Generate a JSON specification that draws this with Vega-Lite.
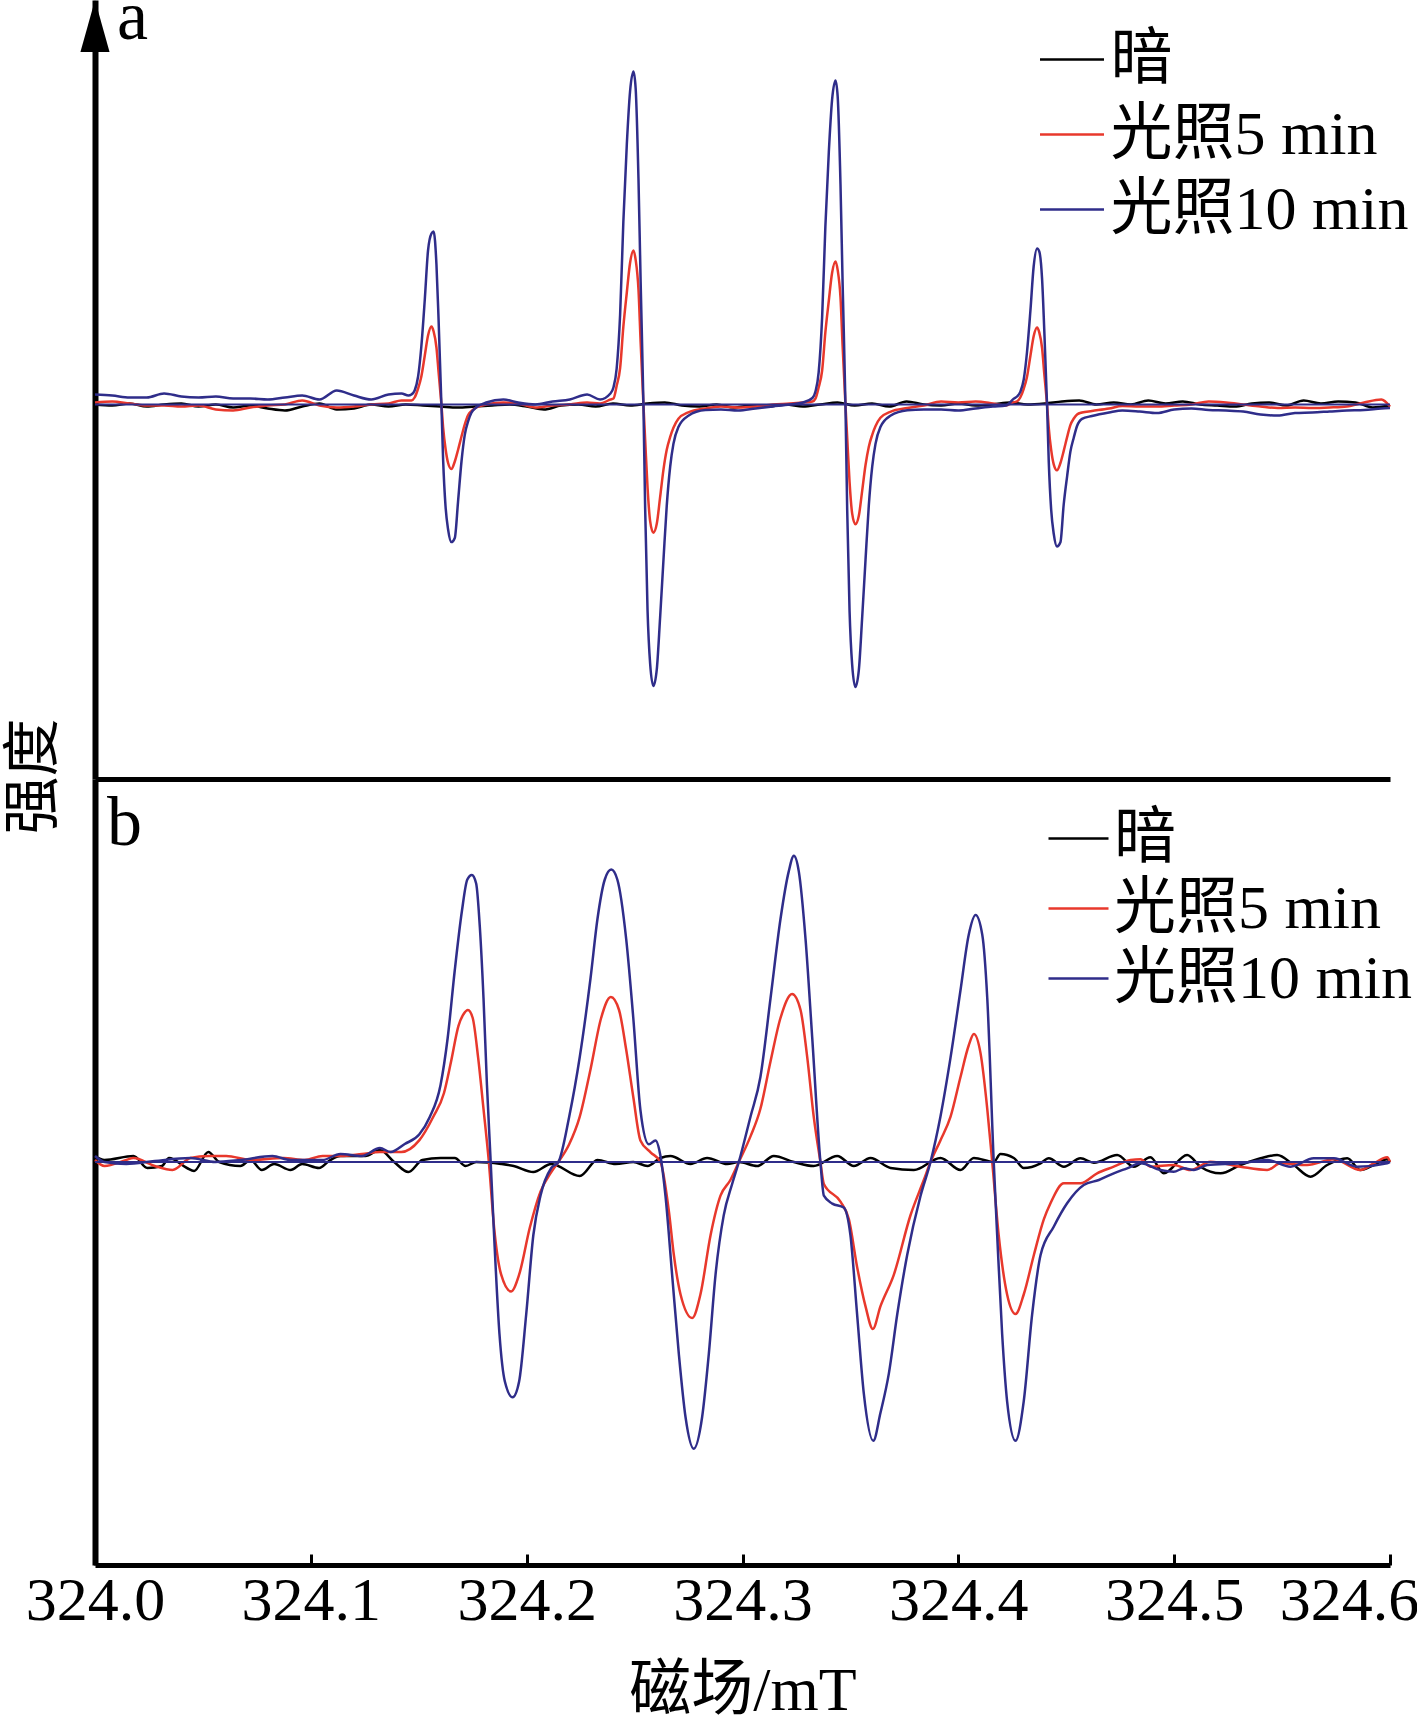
{
"$schema":"https://vega.github.io/schema/vega-lite/v6.json",
"padding":{"left":5,"top":0,"right":0,"bottom":0},
"background":"white",
"bounds":"flush",
"spacing":0,
"config":{"view":{"stroke":null},"axis":{"grid":false}},
"resolve":{"scale":{"y":"independent","color":"independent"},"legend":{"color":"independent"}},
"datasets":{
"a":[
{"s":"k","x":324.000,"y":0},{"s":"k","x":324.008,"y":-1},{"s":"k","x":324.016,"y":1},{"s":"k","x":324.024,"y":-2},{"s":"k","x":324.032,"y":0},{"s":"k","x":324.040,"y":1},{"s":"k","x":324.048,"y":-2},{"s":"k","x":324.056,"y":0},{"s":"k","x":324.064,"y":-3},{"s":"k","x":324.072,"y":-1},{"s":"k","x":324.080,"y":-4},{"s":"k","x":324.088,"y":-6},{"s":"k","x":324.096,"y":-2},{"s":"k","x":324.104,"y":1},{"s":"k","x":324.112,"y":-5},{"s":"k","x":324.120,"y":-4},{"s":"k","x":324.128,"y":0},{"s":"k","x":324.136,"y":-2},{"s":"k","x":324.144,"y":0},{"s":"k","x":324.152,"y":-1},{"s":"k","x":324.160,"y":-2},{"s":"k","x":324.168,"y":-3},{"s":"k","x":324.176,"y":-2},{"s":"k","x":324.184,"y":-1},{"s":"k","x":324.192,"y":0},{"s":"k","x":324.200,"y":-2},{"s":"k","x":324.208,"y":-5},{"s":"k","x":324.216,"y":-1},{"s":"k","x":324.224,"y":0},{"s":"k","x":324.232,"y":-2},{"s":"k","x":324.240,"y":1},{"s":"k","x":324.248,"y":-1},{"s":"k","x":324.256,"y":1},{"s":"k","x":324.264,"y":2},{"s":"k","x":324.272,"y":-1},{"s":"k","x":324.280,"y":-2},{"s":"k","x":324.288,"y":0},{"s":"k","x":324.296,"y":-3},{"s":"k","x":324.304,"y":-1},{"s":"k","x":324.312,"y":-2},{"s":"k","x":324.320,"y":0},{"s":"k","x":324.328,"y":-2},{"s":"k","x":324.336,"y":0},{"s":"k","x":324.344,"y":2},{"s":"k","x":324.352,"y":-1},{"s":"k","x":324.360,"y":1},{"s":"k","x":324.368,"y":-2},{"s":"k","x":324.376,"y":3},{"s":"k","x":324.384,"y":0},{"s":"k","x":324.392,"y":-1},{"s":"k","x":324.400,"y":1},{"s":"k","x":324.408,"y":-1},{"s":"k","x":324.416,"y":0},{"s":"k","x":324.424,"y":2},{"s":"k","x":324.432,"y":0},{"s":"k","x":324.440,"y":1},{"s":"k","x":324.448,"y":3},{"s":"k","x":324.456,"y":4},{"s":"k","x":324.464,"y":0},{"s":"k","x":324.472,"y":2},{"s":"k","x":324.480,"y":0},{"s":"k","x":324.488,"y":4},{"s":"k","x":324.496,"y":1},{"s":"k","x":324.504,"y":3},{"s":"k","x":324.512,"y":0},{"s":"k","x":324.520,"y":-1},{"s":"k","x":324.528,"y":-2},{"s":"k","x":324.536,"y":1},{"s":"k","x":324.544,"y":2},{"s":"k","x":324.552,"y":-1},{"s":"k","x":324.560,"y":4},{"s":"k","x":324.568,"y":1},{"s":"k","x":324.576,"y":3},{"s":"k","x":324.584,"y":2},{"s":"k","x":324.592,"y":-3},{"s":"k","x":324.600,"y":-1},
{"s":"r","x":324.000,"y":2},{"s":"r","x":324.008,"y":3},{"s":"r","x":324.016,"y":1},{"s":"r","x":324.024,"y":-1},{"s":"r","x":324.032,"y":-1},{"s":"r","x":324.040,"y":-2},{"s":"r","x":324.048,"y":-1},{"s":"r","x":324.056,"y":-5},{"s":"r","x":324.064,"y":-6},{"s":"r","x":324.072,"y":-3},{"s":"r","x":324.080,"y":-1},{"s":"r","x":324.088,"y":0},{"s":"r","x":324.096,"y":4},{"s":"r","x":324.104,"y":-1},{"s":"r","x":324.112,"y":-3},{"s":"r","x":324.120,"y":-2},{"s":"r","x":324.128,"y":0},{"s":"r","x":324.136,"y":1},{"s":"r","x":324.142,"y":4},
{"s":"r","x":324.1452,"y":4},{"s":"r","x":324.1466,"y":4},{"s":"r","x":324.1481,"y":7},{"s":"r","x":324.1497,"y":16},{"s":"r","x":324.1512,"y":28},{"s":"r","x":324.1528,"y":49},{"s":"r","x":324.1543,"y":69},{"s":"r","x":324.1559,"y":78},{"s":"r","x":324.1569,"y":73},{"s":"r","x":324.1582,"y":57},{"s":"r","x":324.1592,"y":32},{"s":"r","x":324.1605,"y":0},{"s":"r","x":324.1613,"y":-23},{"s":"r","x":324.1624,"y":-44},{"s":"r","x":324.1636,"y":-58.5},{"s":"r","x":324.1651,"y":-64.5},{"s":"r","x":324.1667,"y":-57},{"s":"r","x":324.1682,"y":-45.5},{"s":"r","x":324.1698,"y":-32},{"s":"r","x":324.1713,"y":-20},{"s":"r","x":324.1729,"y":-10.5},{"s":"r","x":324.1744,"y":-6.5},{"s":"r","x":324.1767,"y":-3},{"s":"r","x":324.1813,"y":0},{"s":"r","x":324.1892,"y":2},
{"s":"r","x":324.196,"y":1},{"s":"r","x":324.204,"y":-3},{"s":"r","x":324.212,"y":-1},{"s":"r","x":324.220,"y":0},{"s":"r","x":324.228,"y":2},{"s":"r","x":324.234,"y":1},
{"s":"r","x":324.2388,"y":5},{"s":"r","x":324.2402,"y":6},{"s":"r","x":324.2417,"y":18.7},{"s":"r","x":324.2433,"y":36.5},{"s":"r","x":324.2448,"y":77.8},{"s":"r","x":324.2464,"y":112},{"s":"r","x":324.2479,"y":141.5},{"s":"r","x":324.2495,"y":154},{"s":"r","x":324.2505,"y":144.6},{"s":"r","x":324.2518,"y":115},{"s":"r","x":324.2528,"y":62.2},{"s":"r","x":324.2541,"y":0},{"s":"r","x":324.2549,"y":-35},{"s":"r","x":324.2560,"y":-82.9},{"s":"r","x":324.2572,"y":-116.6},{"s":"r","x":324.2587,"y":-128.2},{"s":"r","x":324.2603,"y":-119.1},{"s":"r","x":324.2618,"y":-93.2},{"s":"r","x":324.2634,"y":-64.8},{"s":"r","x":324.2649,"y":-45.3},{"s":"r","x":324.2665,"y":-32.4},{"s":"r","x":324.2680,"y":-23.3},{"s":"r","x":324.2703,"y":-14.2},{"s":"r","x":324.2749,"y":-7.8},{"s":"r","x":324.2828,"y":-3.9},
{"s":"r","x":324.290,"y":-2},{"s":"r","x":324.298,"y":-3},{"s":"r","x":324.306,"y":-2},{"s":"r","x":324.314,"y":0},{"s":"r","x":324.322,"y":1},{"s":"r","x":324.328,"y":2},
{"s":"r","x":324.3324,"y":2.9},{"s":"r","x":324.3338,"y":5.8},{"s":"r","x":324.3353,"y":17.3},{"s":"r","x":324.3369,"y":34},{"s":"r","x":324.3384,"y":72.3},{"s":"r","x":324.3400,"y":104},{"s":"r","x":324.3415,"y":131.5},{"s":"r","x":324.3431,"y":143},{"s":"r","x":324.3441,"y":134.4},{"s":"r","x":324.3454,"y":107},{"s":"r","x":324.3464,"y":57.8},{"s":"r","x":324.3477,"y":0},{"s":"r","x":324.3485,"y":-32.7},{"s":"r","x":324.3496,"y":-77.4},{"s":"r","x":324.3508,"y":-108.9},{"s":"r","x":324.3523,"y":-119.8},{"s":"r","x":324.3539,"y":-111.3},{"s":"r","x":324.3554,"y":-87.1},{"s":"r","x":324.3570,"y":-60.5},{"s":"r","x":324.3585,"y":-42.4},{"s":"r","x":324.3601,"y":-30.3},{"s":"r","x":324.3616,"y":-21.8},{"s":"r","x":324.3639,"y":-13.3},{"s":"r","x":324.3685,"y":-7.3},{"s":"r","x":324.3764,"y":-3.6},
{"s":"r","x":324.384,"y":-1},{"s":"r","x":324.392,"y":3},{"s":"r","x":324.400,"y":2},{"s":"r","x":324.408,"y":3},{"s":"r","x":324.416,"y":1},{"s":"r","x":324.422,"y":-1},
{"s":"r","x":324.4258,"y":2.4},{"s":"r","x":324.4272,"y":3.1},{"s":"r","x":324.4287,"y":7},{"s":"r","x":324.4303,"y":15.7},{"s":"r","x":324.4318,"y":27.5},{"s":"r","x":324.4334,"y":48.7},{"s":"r","x":324.4349,"y":68.3},{"s":"r","x":324.4365,"y":77},{"s":"r","x":324.4375,"y":72.2},{"s":"r","x":324.4388,"y":56.5},{"s":"r","x":324.4398,"y":31.4},{"s":"r","x":324.4411,"y":0},{"s":"r","x":324.4419,"y":-23.3},{"s":"r","x":324.4430,"y":-45.2},{"s":"r","x":324.4442,"y":-59.9},{"s":"r","x":324.4457,"y":-65.8},{"s":"r","x":324.4473,"y":-58.5},{"s":"r","x":324.4488,"y":-46.6},{"s":"r","x":324.4504,"y":-32.6},{"s":"r","x":324.4519,"y":-20.6},{"s":"r","x":324.4535,"y":-14},{"s":"r","x":324.4550,"y":-10},{"s":"r","x":324.4573,"y":-8},{"s":"r","x":324.4619,"y":-6.5},{"s":"r","x":324.4698,"y":-4},
{"s":"r","x":324.476,"y":-1.5},{"s":"r","x":324.484,"y":-2},{"s":"r","x":324.492,"y":-2},{"s":"r","x":324.500,"y":-1},{"s":"r","x":324.508,"y":0},{"s":"r","x":324.516,"y":3},{"s":"r","x":324.524,"y":2},{"s":"r","x":324.532,"y":0},{"s":"r","x":324.540,"y":-2},{"s":"r","x":324.548,"y":-3.5},{"s":"r","x":324.556,"y":-3},{"s":"r","x":324.564,"y":-3.5},{"s":"r","x":324.572,"y":-3},{"s":"r","x":324.580,"y":-2},{"s":"r","x":324.588,"y":2},{"s":"r","x":324.596,"y":5},{"s":"r","x":324.600,"y":-2},
{"s":"b","x":324.000,"y":10},{"s":"b","x":324.008,"y":9},{"s":"b","x":324.016,"y":7},{"s":"b","x":324.024,"y":7},{"s":"b","x":324.032,"y":11},{"s":"b","x":324.040,"y":8},{"s":"b","x":324.048,"y":7},{"s":"b","x":324.056,"y":8},{"s":"b","x":324.064,"y":6},{"s":"b","x":324.072,"y":6},{"s":"b","x":324.080,"y":5},{"s":"b","x":324.088,"y":7},{"s":"b","x":324.096,"y":9},{"s":"b","x":324.104,"y":5},{"s":"b","x":324.112,"y":14},{"s":"b","x":324.120,"y":9},{"s":"b","x":324.128,"y":5},{"s":"b","x":324.136,"y":10},{"s":"b","x":324.142,"y":11},
{"s":"b","x":324.1452,"y":9},{"s":"b","x":324.1466,"y":10},{"s":"b","x":324.1481,"y":14},{"s":"b","x":324.1497,"y":28},{"s":"b","x":324.1512,"y":58},{"s":"b","x":324.1528,"y":105},{"s":"b","x":324.1543,"y":154},{"s":"b","x":324.1559,"y":171},{"s":"b","x":324.1569,"y":173},{"s":"b","x":324.1582,"y":140},{"s":"b","x":324.1592,"y":84},{"s":"b","x":324.1605,"y":0},{"s":"b","x":324.1613,"y":-55.6},{"s":"b","x":324.1624,"y":-101.5},{"s":"b","x":324.1636,"y":-125},{"s":"b","x":324.1651,"y":-137.6},{"s":"b","x":324.1667,"y":-133.4},{"s":"b","x":324.1682,"y":-97.3},{"s":"b","x":324.1698,"y":-57},{"s":"b","x":324.1713,"y":-30.6},{"s":"b","x":324.1729,"y":-16.7},{"s":"b","x":324.1744,"y":-8.3},{"s":"b","x":324.1767,"y":-2.8},{"s":"b","x":324.1813,"y":2},{"s":"b","x":324.1892,"y":5},
{"s":"b","x":324.196,"y":2},{"s":"b","x":324.204,"y":0},{"s":"b","x":324.212,"y":3},{"s":"b","x":324.220,"y":5},{"s":"b","x":324.228,"y":10},{"s":"b","x":324.234,"y":5},
{"s":"b","x":324.2388,"y":11},{"s":"b","x":324.2402,"y":17},{"s":"b","x":324.2417,"y":36},{"s":"b","x":324.2433,"y":90},{"s":"b","x":324.2448,"y":183},{"s":"b","x":324.2464,"y":260},{"s":"b","x":324.2479,"y":313},{"s":"b","x":324.2495,"y":333},{"s":"b","x":324.2505,"y":316},{"s":"b","x":324.2518,"y":226},{"s":"b","x":324.2528,"y":123},{"s":"b","x":324.2541,"y":0},{"s":"b","x":324.2549,"y":-104},{"s":"b","x":324.2560,"y":-205.5},{"s":"b","x":324.2572,"y":-259},{"s":"b","x":324.2587,"y":-281.5},{"s":"b","x":324.2603,"y":-264.6},{"s":"b","x":324.2618,"y":-214},{"s":"b","x":324.2634,"y":-154.8},{"s":"b","x":324.2649,"y":-101.3},{"s":"b","x":324.2665,"y":-62},{"s":"b","x":324.2680,"y":-39.4},{"s":"b","x":324.2703,"y":-22.5},{"s":"b","x":324.2749,"y":-11.3},{"s":"b","x":324.2828,"y":-5.6},
{"s":"b","x":324.290,"y":-5},{"s":"b","x":324.298,"y":-6},{"s":"b","x":324.306,"y":-4},{"s":"b","x":324.314,"y":-2},{"s":"b","x":324.322,"y":0},{"s":"b","x":324.328,"y":2},
{"s":"b","x":324.3324,"y":6.5},{"s":"b","x":324.3338,"y":13},{"s":"b","x":324.3353,"y":32.4},{"s":"b","x":324.3369,"y":87.5},{"s":"b","x":324.3384,"y":178.2},{"s":"b","x":324.3400,"y":252.7},{"s":"b","x":324.3415,"y":304.6},{"s":"b","x":324.3431,"y":324},{"s":"b","x":324.3441,"y":307.8},{"s":"b","x":324.3454,"y":220.3},{"s":"b","x":324.3464,"y":119.9},{"s":"b","x":324.3477,"y":0},{"s":"b","x":324.3485,"y":-104.5},{"s":"b","x":324.3496,"y":-206.2},{"s":"b","x":324.3508,"y":-259.9},{"s":"b","x":324.3523,"y":-282.5},{"s":"b","x":324.3539,"y":-265.6},{"s":"b","x":324.3554,"y":-214.7},{"s":"b","x":324.3570,"y":-155.4},{"s":"b","x":324.3585,"y":-101.7},{"s":"b","x":324.3601,"y":-62.2},{"s":"b","x":324.3616,"y":-39.6},{"s":"b","x":324.3639,"y":-22.6},{"s":"b","x":324.3685,"y":-11.3},{"s":"b","x":324.3764,"y":-5.7},
{"s":"b","x":324.384,"y":-5},{"s":"b","x":324.392,"y":-5},{"s":"b","x":324.400,"y":-6},{"s":"b","x":324.408,"y":-4},{"s":"b","x":324.416,"y":-2},{"s":"b","x":324.422,"y":-1},
{"s":"b","x":324.4258,"y":6},{"s":"b","x":324.4272,"y":8},{"s":"b","x":324.4287,"y":12.6},{"s":"b","x":324.4303,"y":25},{"s":"b","x":324.4318,"y":52},{"s":"b","x":324.4334,"y":94},{"s":"b","x":324.4349,"y":138},{"s":"b","x":324.4365,"y":156},{"s":"b","x":324.4375,"y":153},{"s":"b","x":324.4388,"y":125.6},{"s":"b","x":324.4398,"y":75.4},{"s":"b","x":324.4411,"y":0},{"s":"b","x":324.4419,"y":-57.4},{"s":"b","x":324.4430,"y":-104.8},{"s":"b","x":324.4442,"y":-129.2},{"s":"b","x":324.4457,"y":-142},{"s":"b","x":324.4473,"y":-137.8},{"s":"b","x":324.4488,"y":-100.5},{"s":"b","x":324.4504,"y":-71.8},{"s":"b","x":324.4519,"y":-47.4},{"s":"b","x":324.4535,"y":-33},{"s":"b","x":324.4550,"y":-21.5},{"s":"b","x":324.4573,"y":-14.4},{"s":"b","x":324.4619,"y":-11.5},{"s":"b","x":324.4698,"y":-8},
{"s":"b","x":324.476,"y":-6},{"s":"b","x":324.484,"y":-7},{"s":"b","x":324.492,"y":-8.5},{"s":"b","x":324.500,"y":-5},{"s":"b","x":324.508,"y":-4},{"s":"b","x":324.516,"y":-5.5},{"s":"b","x":324.524,"y":-6},{"s":"b","x":324.532,"y":-7},{"s":"b","x":324.540,"y":-10},{"s":"b","x":324.548,"y":-11},{"s":"b","x":324.556,"y":-8.5},{"s":"b","x":324.564,"y":-8},{"s":"b","x":324.572,"y":-7},{"s":"b","x":324.580,"y":-6},{"s":"b","x":324.588,"y":-5.5},{"s":"b","x":324.596,"y":-4},{"s":"b","x":324.600,"y":-3.5}
],
"b":[
{"s":"k","x":324.0000,"y":6},{"s":"k","x":324.0044,"y":2},{"s":"k","x":324.0178,"y":6},{"s":"k","x":324.0243,"y":-6},{"s":"k","x":324.0310,"y":-4},{"s":"k","x":324.0343,"y":4},{"s":"k","x":324.0426,"y":-6},{"s":"k","x":324.0459,"y":-9},{"s":"k","x":324.0525,"y":10},{"s":"k","x":324.0575,"y":0},{"s":"k","x":324.0674,"y":-4},{"s":"k","x":324.0720,"y":2},{"s":"k","x":324.0773,"y":-8},{"s":"k","x":324.0830,"y":-2},{"s":"k","x":324.0906,"y":-8},{"s":"k","x":324.0960,"y":-2},{"s":"k","x":324.1038,"y":-6},{"s":"k","x":324.1090,"y":2},{"s":"k","x":324.1137,"y":6},{"s":"k","x":324.1253,"y":6},{"s":"k","x":324.1320,"y":12},{"s":"k","x":324.1386,"y":0},{"s":"k","x":324.1452,"y":-10},{"s":"k","x":324.1517,"y":2},{"s":"k","x":324.1601,"y":4},{"s":"k","x":324.1667,"y":4},{"s":"k","x":324.1717,"y":-4},{"s":"k","x":324.1766,"y":0},{"s":"k","x":324.1882,"y":-2},{"s":"k","x":324.1940,"y":-4},{"s":"k","x":324.2031,"y":-10},{"s":"k","x":324.2114,"y":-2},{"s":"k","x":324.2246,"y":-14},{"s":"k","x":324.2328,"y":2},{"s":"k","x":324.2412,"y":-2},{"s":"k","x":324.2494,"y":0},{"s":"k","x":324.2560,"y":-4},{"s":"k","x":324.2620,"y":4},{"s":"k","x":324.2666,"y":6},{"s":"k","x":324.2759,"y":-2},{"s":"k","x":324.2836,"y":4},{"s":"k","x":324.2929,"y":-2},{"s":"k","x":324.2983,"y":0},{"s":"k","x":324.3068,"y":-4},{"s":"k","x":324.3145,"y":6},{"s":"k","x":324.3238,"y":0},{"s":"k","x":324.3330,"y":-4},{"s":"k","x":324.3439,"y":6},{"s":"k","x":324.3516,"y":-4},{"s":"k","x":324.3593,"y":4},{"s":"k","x":324.3686,"y":-6},{"s":"k","x":324.3794,"y":-8},{"s":"k","x":324.3917,"y":4},{"s":"k","x":324.4010,"y":-8},{"s":"k","x":324.4072,"y":4},{"s":"k","x":324.4164,"y":0},{"s":"k","x":324.4195,"y":8},{"s":"k","x":324.4257,"y":4},{"s":"k","x":324.4303,"y":-6},{"s":"k","x":324.4381,"y":-1.3},{"s":"k","x":324.4419,"y":3.7},{"s":"k","x":324.4489,"y":-4.7},{"s":"k","x":324.4566,"y":3.7},{"s":"k","x":324.4628,"y":-0.7},{"s":"k","x":324.4736,"y":7},{"s":"k","x":324.4813,"y":-4.7},{"s":"k","x":324.4890,"y":4.7},{"s":"k","x":324.4952,"y":-11.3},{"s":"k","x":324.5060,"y":7},{"s":"k","x":324.5122,"y":-4.7},{"s":"k","x":324.5215,"y":-11.3},{"s":"k","x":324.5307,"y":-3},{"s":"k","x":324.5400,"y":3.7},{"s":"k","x":324.5477,"y":7},{"s":"k","x":324.5554,"y":-3},{"s":"k","x":324.5632,"y":-14.7},{"s":"k","x":324.5709,"y":-3},{"s":"k","x":324.5802,"y":3.7},{"s":"k","x":324.5863,"y":-8},{"s":"k","x":324.5925,"y":-3},{"s":"k","x":324.5987,"y":2.7},{"s":"k","x":324.6,"y":0},
{"s":"r","x":324.0000,"y":2},{"s":"r","x":324.0044,"y":-4},{"s":"r","x":324.0145,"y":2},{"s":"r","x":324.0178,"y":4},{"s":"r","x":324.0277,"y":-4},{"s":"r","x":324.0359,"y":-8},{"s":"r","x":324.0442,"y":4},{"s":"r","x":324.0526,"y":6},{"s":"r","x":324.0608,"y":6},{"s":"r","x":324.0724,"y":2},{"s":"r","x":324.0873,"y":4},{"s":"r","x":324.0972,"y":2},{"s":"r","x":324.1054,"y":6},{"s":"r","x":324.1137,"y":6},{"s":"r","x":324.1237,"y":8},{"s":"r","x":324.1320,"y":10},{"s":"r","x":324.1419,"y":10},{"s":"r","x":324.1502,"y":21.6},{"s":"r","x":324.1568,"y":45.5},{"s":"r","x":324.1617,"y":69},{"s":"r","x":324.1650,"y":100.7},{"s":"r","x":324.1684,"y":136.2},{"s":"r","x":324.1708,"y":148},{"s":"r","x":324.1728,"y":152},{"s":"r","x":324.1750,"y":144},{"s":"r","x":324.1775,"y":104.6},{"s":"r","x":324.1800,"y":53.2},{"s":"r","x":324.1824,"y":2},{"s":"r","x":324.1849,"y":-65.3},{"s":"r","x":324.1882,"y":-112.7},{"s":"r","x":324.1928,"y":-129.5},{"s":"r","x":324.1965,"y":-112.7},{"s":"r","x":324.2015,"y":-65.3},{"s":"r","x":324.2064,"y":-29.6},{"s":"r","x":324.2114,"y":-10},{"s":"r","x":324.2147,"y":0},{"s":"r","x":324.2197,"y":17.7},{"s":"r","x":324.2246,"y":45.3},{"s":"r","x":324.2296,"y":92.8},{"s":"r","x":324.2345,"y":144},{"s":"r","x":324.2390,"y":165},{"s":"r","x":324.2428,"y":152},{"s":"r","x":324.2461,"y":112.5},{"s":"r","x":324.2494,"y":65},{"s":"r","x":324.2527,"y":21.6},{"s":"r","x":324.2574,"y":9.7},{"s":"r","x":324.2620,"y":0},{"s":"r","x":324.2659,"y":-49.5},{"s":"r","x":324.2682,"y":-93},{"s":"r","x":324.2713,"y":-132.5},{"s":"r","x":324.2767,"y":-156},{"s":"r","x":324.2805,"y":-132.5},{"s":"r","x":324.2852,"y":-73.2},{"s":"r","x":324.2898,"y":-33.7},{"s":"r","x":324.2944,"y":-18},{"s":"r","x":324.2983,"y":0},{"s":"r","x":324.3037,"y":25.6},{"s":"r","x":324.3083,"y":53.2},{"s":"r","x":324.3130,"y":100.7},{"s":"r","x":324.3176,"y":144},{"s":"r","x":324.3230,"y":168},{"s":"r","x":324.3269,"y":152},{"s":"r","x":324.3300,"y":104.6},{"s":"r","x":324.3330,"y":45.3},{"s":"r","x":324.3361,"y":0},{"s":"r","x":324.3377,"y":-22},{"s":"r","x":324.3454,"y":-39.7},{"s":"r","x":324.3493,"y":-57.4},{"s":"r","x":324.3531,"y":-104.9},{"s":"r","x":324.3570,"y":-144.4},{"s":"r","x":324.3604,"y":-167},{"s":"r","x":324.3639,"y":-144.4},{"s":"r","x":324.3701,"y":-112.8},{"s":"r","x":324.3778,"y":-53.5},{"s":"r","x":324.3840,"y":-18},{"s":"r","x":324.3871,"y":0},{"s":"r","x":324.3917,"y":21.6},{"s":"r","x":324.3964,"y":45.3},{"s":"r","x":324.4010,"y":85},{"s":"r","x":324.4048,"y":116.5},{"s":"r","x":324.4072,"y":128},{"s":"r","x":324.4103,"y":108.6},{"s":"r","x":324.4134,"y":53.2},{"s":"r","x":324.4157,"y":0},{"s":"r","x":324.4187,"y":-73.2},{"s":"r","x":324.4226,"y":-132.5},{"s":"r","x":324.4265,"y":-152},{"s":"r","x":324.4303,"y":-132.5},{"s":"r","x":324.4350,"y":-93},{"s":"r","x":324.4396,"y":-57.4},{"s":"r","x":324.4427,"y":-41.3},{"s":"r","x":324.4489,"y":-21.3},{"s":"r","x":324.4566,"y":-21.3},{"s":"r","x":324.4643,"y":-11.3},{"s":"r","x":324.4720,"y":-4.7},{"s":"r","x":324.4798,"y":2},{"s":"r","x":324.4844,"y":2.7},{"s":"r","x":324.4890,"y":-4.7},{"s":"r","x":324.4998,"y":-3},{"s":"r","x":324.5076,"y":-8},{"s":"r","x":324.5168,"y":0.3},{"s":"r","x":324.5307,"y":-4.7},{"s":"r","x":324.5431,"y":-8},{"s":"r","x":324.5493,"y":-1.3},{"s":"r","x":324.5616,"y":-3},{"s":"r","x":324.5740,"y":2.7},{"s":"r","x":324.5863,"y":-8},{"s":"r","x":324.5925,"y":-1.3},{"s":"r","x":324.5987,"y":4.7},{"s":"r","x":324.6,"y":0},
{"s":"b","x":324.0000,"y":6},{"s":"b","x":324.0044,"y":0},{"s":"b","x":324.0145,"y":-2},{"s":"b","x":324.0277,"y":1},{"s":"b","x":324.0442,"y":4},{"s":"b","x":324.0558,"y":0},{"s":"b","x":324.0674,"y":2},{"s":"b","x":324.0822,"y":6},{"s":"b","x":324.0906,"y":2},{"s":"b","x":324.1054,"y":2},{"s":"b","x":324.1137,"y":8},{"s":"b","x":324.1237,"y":6},{"s":"b","x":324.1320,"y":14},{"s":"b","x":324.1369,"y":10},{"s":"b","x":324.1435,"y":18},{"s":"b","x":324.1502,"y":27.5},{"s":"b","x":324.1551,"y":45},{"s":"b","x":324.1601,"y":77},{"s":"b","x":324.1634,"y":124},{"s":"b","x":324.1667,"y":192},{"s":"b","x":324.1700,"y":251},{"s":"b","x":324.1725,"y":282.5},{"s":"b","x":324.1746,"y":287},{"s":"b","x":324.1766,"y":278.5},{"s":"b","x":324.1783,"y":235},{"s":"b","x":324.1800,"y":164},{"s":"b","x":324.1816,"y":77},{"s":"b","x":324.1832,"y":6},{"s":"b","x":324.1849,"y":-73},{"s":"b","x":324.1874,"y":-172},{"s":"b","x":324.1899,"y":-219.5},{"s":"b","x":324.1935,"y":-235.3},{"s":"b","x":324.1965,"y":-219.5},{"s":"b","x":324.1998,"y":-152},{"s":"b","x":324.2031,"y":-73},{"s":"b","x":324.2064,"y":-33.7},{"s":"b","x":324.2114,"y":-6},{"s":"b","x":324.2147,"y":0},{"s":"b","x":324.2197,"y":45.3},{"s":"b","x":324.2246,"y":105},{"s":"b","x":324.2296,"y":184},{"s":"b","x":324.2328,"y":243},{"s":"b","x":324.2362,"y":282.5},{"s":"b","x":324.2392,"y":292.4},{"s":"b","x":324.2420,"y":282.5},{"s":"b","x":324.2461,"y":223.2},{"s":"b","x":324.2494,"y":144},{"s":"b","x":324.2527,"y":52},{"s":"b","x":324.2566,"y":17.7},{"s":"b","x":324.2597,"y":21.6},{"s":"b","x":324.2620,"y":6},{"s":"b","x":324.2643,"y":-33.7},{"s":"b","x":324.2674,"y":-112.8},{"s":"b","x":324.2705,"y":-191.8},{"s":"b","x":324.2736,"y":-255},{"s":"b","x":324.2774,"y":-286.7},{"s":"b","x":324.2813,"y":-255},{"s":"b","x":324.2844,"y":-191.8},{"s":"b","x":324.2875,"y":-112.8},{"s":"b","x":324.2913,"y":-53.4},{"s":"b","x":324.2952,"y":-22},{"s":"b","x":324.2983,"y":0},{"s":"b","x":324.3037,"y":45.3},{"s":"b","x":324.3083,"y":85},{"s":"b","x":324.3130,"y":164},{"s":"b","x":324.3176,"y":243},{"s":"b","x":324.3214,"y":290.4},{"s":"b","x":324.3238,"y":306.2},{"s":"b","x":324.3261,"y":290.4},{"s":"b","x":324.3292,"y":223.2},{"s":"b","x":324.3323,"y":124.4},{"s":"b","x":324.3361,"y":0},{"s":"b","x":324.3377,"y":-33.7},{"s":"b","x":324.3416,"y":-41.6},{"s":"b","x":324.3469,"y":-45.6},{"s":"b","x":324.3500,"y":-73.2},{"s":"b","x":324.3531,"y":-152.3},{"s":"b","x":324.3562,"y":-231.4},{"s":"b","x":324.3606,"y":-278.8},{"s":"b","x":324.3639,"y":-251},{"s":"b","x":324.3678,"y":-211.6},{"s":"b","x":324.3717,"y":-152.3},{"s":"b","x":324.3763,"y":-93},{"s":"b","x":324.3825,"y":-33.7},{"s":"b","x":324.3871,"y":0},{"s":"b","x":324.3917,"y":45.3},{"s":"b","x":324.3964,"y":104.6},{"s":"b","x":324.4010,"y":171.8},{"s":"b","x":324.4048,"y":227.1},{"s":"b","x":324.4080,"y":247},{"s":"b","x":324.4111,"y":227.1},{"s":"b","x":324.4134,"y":164},{"s":"b","x":324.4164,"y":0},{"s":"b","x":324.4180,"y":-73.2},{"s":"b","x":324.4203,"y":-172},{"s":"b","x":324.4226,"y":-239.3},{"s":"b","x":324.4265,"y":-278.8},{"s":"b","x":324.4303,"y":-239.3},{"s":"b","x":324.4342,"y":-152.3},{"s":"b","x":324.4381,"y":-93},{"s":"b","x":324.4442,"y":-64.7},{"s":"b","x":324.4504,"y":-41.3},{"s":"b","x":324.4581,"y":-23},{"s":"b","x":324.4651,"y":-18},{"s":"b","x":324.4720,"y":-11.3},{"s":"b","x":324.4782,"y":-6.3},{"s":"b","x":324.4844,"y":-1.3},{"s":"b","x":324.4937,"y":-8},{"s":"b","x":324.4998,"y":-9.7},{"s":"b","x":324.5045,"y":-6.3},{"s":"b","x":324.5091,"y":-8},{"s":"b","x":324.5153,"y":-3},{"s":"b","x":324.5307,"y":-1.3},{"s":"b","x":324.5431,"y":2},{"s":"b","x":324.5539,"y":-4.7},{"s":"b","x":324.5647,"y":3.7},{"s":"b","x":324.5740,"y":3.7},{"s":"b","x":324.5848,"y":-4.7},{"s":"b","x":324.5987,"y":-1.3},{"s":"b","x":324.6,"y":0}
]
},
"vconcat":[
{
"width":1295,"height":779,
"layer":[
{"data":{"name":"a"},
"mark":{"type":"line","strokeWidth":2.5,"interpolate":"monotone"},
"encoding":{
"x":{"field":"x","type":"quantitative","scale":{"domain":[324,324.6],"nice":false,"zero":false},"axis":{"orient":"bottom","labels":false,"ticks":false,"title":null,"domainWidth":5,"domainColor":"#000000"}},
"y":{"field":"y","type":"quantitative","scale":{"domain":[-374.5,404.5],"nice":false,"zero":false},"axis":{"labels":false,"ticks":false,"title":null,"domainWidth":6,"domainColor":"#000000"}},
"color":{"field":"s","type":"nominal","scale":{"domain":["k","r","b"],"range":["#000000","#e8382c","#2f2d8a"]},
"legend":{"orient":"none","legendX":943.5,"legendY":26,"title":null,"labelExpr":"datum.label == 'k' ? '暗' : datum.label == 'r' ? '光照5 min' : '光照10 min'","labelFont":"Liberation Serif, Noto Sans CJK SC","labelFontSize":62,"labelColor":"#000000","symbolType":"stroke","symbolSize":4096,"symbolStrokeWidth":2.5,"labelOffset":5,"rowPadding":10,"padding":0,"labelLimit":0}}
}},
{"data":{"values":[{}]},"mark":{"type":"rule","color":"#2f2d8a","strokeWidth":2},"encoding":{"y":{"datum":0}}},
{"data":{"values":[{}]},"mark":{"type":"point","shape":"M0,-1L0.56,1L-0.56,1Z","size":2704,"filled":true,"color":"#000000","opacity":1},"encoding":{"x":{"datum":324.0},"y":{"datum":378.5}}},
{"data":{"values":[{}]},"mark":{"type":"text","text":"a","fontSize":70,"font":"Liberation Serif","align":"center","baseline":"alphabetic","color":"#000000","clip":true},"encoding":{"x":{"datum":324.0174},"y":{"datum":365.5}}}
]
},
{
"width":1295,"height":786,
"layer":[
{"data":{"name":"b"},
"mark":{"type":"line","strokeWidth":2.5,"interpolate":"monotone"},
"encoding":{
"x":{"field":"x","type":"quantitative","scale":{"domain":[324,324.6],"nice":false,"zero":false},"axis":{"orient":"bottom","values":[324.0,324.1,324.2,324.3,324.4,324.5,324.6],"format":".1f","labelFont":"Liberation Serif","labelFontSize":62,"labelColor":"#000000","labelFlush":false,"labelOverlap":false,"labelPadding":16,"labelOffset":{"condition":{"test":"datum.value > 324.55","value":-41},"value":0},"tickSize":-11,"tickWidth":3,"tickColor":"#000000","domainWidth":5,"domainColor":"#000000","title":"磁场/mT","titleFont":"Liberation Serif, Noto Sans CJK SC","titleFontSize":62,"titleFontWeight":"normal","titleColor":"#000000","titleY":144,"titleBaseline":"alphabetic"}},
"y":{"field":"y","type":"quantitative","scale":{"domain":[-403,383],"nice":false,"zero":false},"axis":{"labels":false,"ticks":false,"title":"强度","titleFont":"Liberation Serif, Noto Sans CJK SC","titleFontSize":58,"titleFontWeight":"normal","titleColor":"#000000","titleX":-60.5,"titleY":-3,"titleAngle":-90,"titleAlign":"center","titleBaseline":"middle","domainWidth":6,"domainColor":"#000000"}},
"color":{"field":"s","type":"nominal","scale":{"domain":["k","r","b"],"range":["#000000","#e8382c","#2f2d8a"]},
"legend":{"orient":"none","legendX":952,"legendY":28,"title":null,"labelExpr":"datum.label == 'k' ? '暗' : datum.label == 'r' ? '光照5 min' : '光照10 min'","labelFont":"Liberation Serif, Noto Sans CJK SC","labelFontSize":62,"labelColor":"#000000","symbolType":"stroke","symbolSize":3600,"symbolStrokeWidth":2.5,"labelOffset":4,"rowPadding":7,"padding":0,"labelLimit":0}}
}},
{"data":{"values":[{}]},"mark":{"type":"rule","color":"#2f2d8a","strokeWidth":2},"encoding":{"y":{"datum":0}}},
{"data":{"values":[{}]},"mark":{"type":"text","text":"b","fontSize":70,"font":"Liberation Serif","align":"center","baseline":"alphabetic","color":"#000000","clip":true},"encoding":{"x":{"datum":324.0137},"y":{"datum":317}}}
]
}
]
}
